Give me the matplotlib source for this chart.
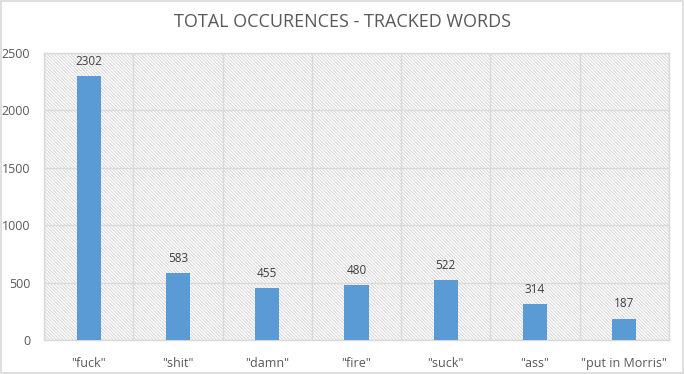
import numpy as np
import matplotlib.pyplot as plt
from matplotlib.patches import Rectangle

#--------------data-------------
words = ['"fuck"', '"shit"', '"damn"', '"fire"', '"suck"', '"ass"', '"put in Morris"']
counts = [2302, 583, 455, 480, 522, 314, 187]
yticks = [0, 500, 1000, 1500, 2000, 2500]

#--------------style-------------
plt.rcParams['font.family'] = ['Open Sans', 'DejaVu Sans']
plt.rcParams['hatch.linewidth'] = 0.7
text_col = '#595959'
grid_col = '#d9d9d9'
bar_col = '#5b9bd5'

fig = plt.figure(figsize=(6.84, 3.74), dpi=100)
ax = fig.add_axes([0.0643, 0.091, 0.9137, 0.767])

# outer border of the chart
fig.add_artist(Rectangle((0.002, 0.003), 0.996, 0.994, transform=fig.transFigure,
                         fill=False, edgecolor=grid_col, lw=1.2))

# hatched plot area
ax.set_facecolor('white')
ax.add_patch(Rectangle((0, 0), 1, 1, transform=ax.transAxes, facecolor='white',
                       edgecolor='#d6d6d6', hatch='\\' * 10, lw=0, zorder=0))

x = np.arange(len(words))
bars = ax.bar(x, counts, width=0.27, color=bar_col, zorder=3)
for xi, c in zip(x, counts):
    ax.text(xi, c + 70, str(c), ha='center', va='bottom', fontsize=8.5, color='#404040', zorder=4)

ax.set_xlim(-0.5, len(words) - 0.5)
ax.set_ylim(0, 2500)
ax.set_yticks(yticks)
ax.set_yticklabels([str(t) for t in yticks])
ax.set_xticks(x)
ax.set_xticklabels(words)
ax.set_xticks(np.arange(len(words) + 1) - 0.5, minor=True)

ax.grid(axis='y', which='major', color=grid_col, lw=1, zorder=1)
ax.grid(axis='x', which='minor', color=grid_col, lw=1, zorder=1)
ax.tick_params(axis='both', which='both', length=0, colors=text_col, labelsize=9)
ax.tick_params(axis='x', pad=12)
ax.tick_params(axis='y', pad=10)
for s in ax.spines.values():
    s.set_color(grid_col)
    s.set_linewidth(1)

fig.text(0.5, 0.94, 'TOTAL OCCURENCES - TRACKED WORDS', ha='center', va='center',
         fontsize=13, color=text_col)

fig.savefig('out.png', dpi=100)
